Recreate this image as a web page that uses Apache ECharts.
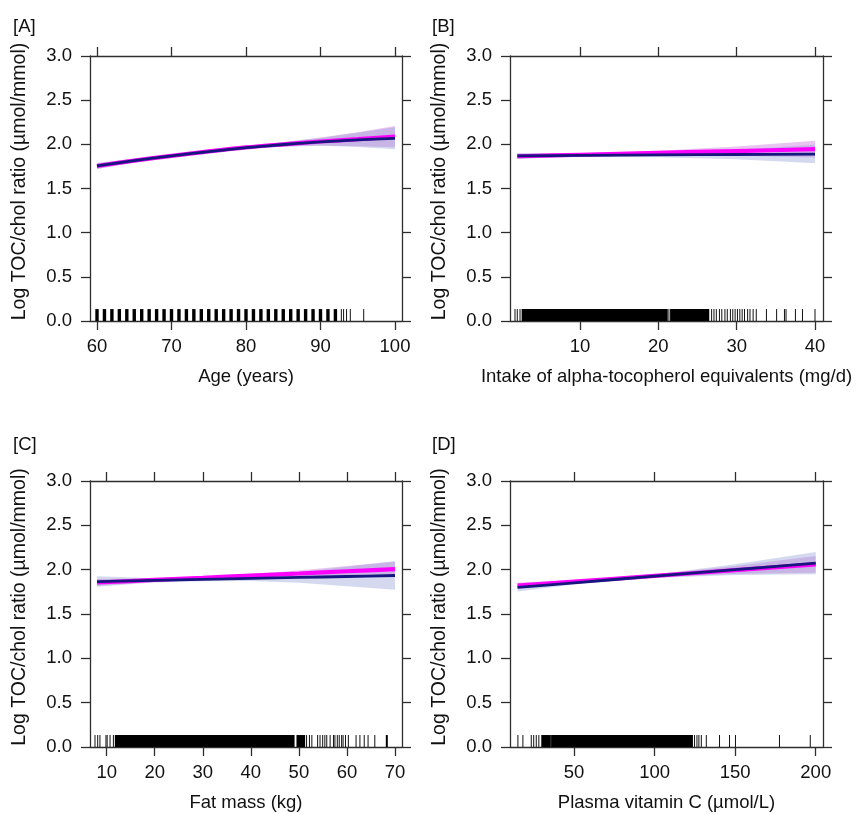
<!DOCTYPE html>
<html><head><meta charset="utf-8">
<script src="https://cdn.jsdelivr.net/npm/echarts@6/dist/echarts.min.js"></script>
<style>html,body{margin:0;padding:0;background:#fff}#c{width:857px;height:814px}</style>
</head><body><div id="c"></div>
<script>
// ---------- shared ----------
const yTickValues = [0, 0.5, 1, 1.5, 2, 2.5, 3];
const yName = 'Log TOC/chol ratio (µmol/mmol)';
const panelLabels = ['[A]', '[B]', '[C]', '[D]'];
const xNames = ['Age (years)', 'Intake of alpha-tocopherol equivalents (mg/d)', 'Fat mass (kg)', 'Plasma vitamin C (µmol/L)'];

// ---------- Panel A: Age ----------
const aTicks = [60, 70, 80, 90, 100];
const aX = [60, 65, 70, 75, 80, 85, 90, 95, 100];
const aMagFit = [1.755, 1.815, 1.870, 1.920, 1.965, 2.000, 2.032, 2.058, 2.087];
const aMagLo  = [1.720, 1.793, 1.855, 1.907, 1.950, 1.975, 1.987, 1.978, 1.967];
const aMagHi  = [1.790, 1.837, 1.885, 1.933, 1.980, 2.025, 2.077, 2.138, 2.207];
const aBluFit = [1.755, 1.815, 1.869, 1.918, 1.962, 1.998, 2.028, 2.050, 2.068];
const aBluLo  = [1.720, 1.793, 1.854, 1.905, 1.947, 1.973, 1.983, 1.970, 1.943];
const aBluHi  = [1.790, 1.837, 1.884, 1.931, 1.977, 2.023, 2.073, 2.130, 2.193];
const aRugThick = [60,61,62,63,64,65,66,67,68,69,70,71,72,73,74,75,76,77,78,79,80,81,82,83,84,85,86,87,88,89,90,91,92];
const aRugThin = [92.8, 93.1, 93.5, 94.0, 95.8];
const aRugBands = [];

// ---------- Panel B: alpha-tocopherol intake ----------
const bTicks = [10, 20, 30, 40];
const bX = [2, 10, 20, 30, 40];
const bMagFit = [1.865, 1.882, 1.903, 1.924, 1.945];
const bMagLo  = [1.835, 1.865, 1.878, 1.872, 1.850];
const bMagHi  = [1.895, 1.899, 1.928, 1.976, 2.040];
const bBluFit = [1.870, 1.875, 1.880, 1.885, 1.890];
const bBluLo  = [1.840, 1.858, 1.855, 1.830, 1.785];
const bBluHi  = [1.900, 1.892, 1.905, 1.940, 1.995];
const bRugThick = [];
const bRugThin = [1.70, 1.99, 2.34, 21.35, 26.8, 27.1, 27.4, 27.8, 28.1, 28.5, 28.8, 29.2, 29.5, 29.8, 30.1, 30.4, 30.7, 31.0, 31.4, 31.7, 32.1, 32.5, 33.8, 35.1, 36.1, 36.3, 37.5, 38.4, 40.0];
const bRugBands = [[2.55, 21.2], [21.5, 26.5]];

// ---------- Panel C: Fat mass ----------
const cTicks = [10, 20, 30, 40, 50, 60, 70];
const cX = [8, 20, 30, 40, 50, 60, 70];
const cMagFit = [1.855, 1.884, 1.908, 1.933, 1.957, 1.982, 2.006];
const cMagLo  = [1.815, 1.864, 1.893, 1.913, 1.922, 1.922, 1.921];
const cMagHi  = [1.895, 1.904, 1.923, 1.953, 1.992, 2.042, 2.091];
const cBluFit = [1.866, 1.879, 1.890, 1.901, 1.912, 1.923, 1.934];
const cBluLo  = [1.806, 1.854, 1.870, 1.871, 1.852, 1.813, 1.774];
const cBluHi  = [1.926, 1.904, 1.910, 1.931, 1.972, 2.033, 2.094];
const cRugThick = [68.3];
const cRugThin = [7.57, 8.13, 8.6, 9.85, 10.1, 10.7, 11.4, 51.6, 52.2, 52.7, 53.9, 54.4, 54.95, 55.4, 55.8, 56.5, 57.2, 57.5, 58.0, 58.4, 58.9, 59.2, 59.7, 60.3, 61.9, 62.7, 63.6, 64.4, 65.8];
const cRugBands = [[11.7, 49.1], [49.5, 51.3]];

// ---------- Panel D: Plasma vitamin C ----------
const dTicks = [50, 100, 150, 200];
const dX = [15, 50, 100, 150, 200];
const dMagFit = [1.820, 1.865, 1.930, 1.995, 2.060];
const dMagLo  = [1.785, 1.850, 1.915, 1.950, 1.965];
const dMagHi  = [1.855, 1.880, 1.945, 2.040, 2.155];
const dBluFit = [1.800, 1.852, 1.926, 2.000, 2.074];
const dBluLo  = [1.755, 1.832, 1.906, 1.940, 1.949];
const dBluHi  = [1.845, 1.872, 1.946, 2.060, 2.199];
const dRugThick = [];
const dRugThin = [15.2, 18.3, 23.5, 25.0, 26.6, 28.2, 35.5, 124.8, 126.3, 127.5, 129.0, 132.1, 140.3, 146.5, 150.2, 177.5, 196.6];
const dRugBands = [[29.7, 35.2], [35.8, 123.8]];

const rugHeight = 0.135;

// ---------- build ----------
const FONT = '"Liberation Sans", Arial, Helvetica, sans-serif';
const AXC = '#2e2e2e';
const TXT = '#111';
const MAG = '#ff00ff';
const BLU = '#16167e';
const MAG_BAND = 'rgba(205,125,225,0.45)';
const BLU_BAND = 'rgba(150,160,215,0.40)';

const panels = [
  {grid:{left:90, top:56, width:312, height:265}, min:59.06, max:100.94, ticks:aTicks, x:aX,
   mf:aMagFit, ml:aMagLo, mh:aMagHi, bf:aBluFit, bl:aBluLo, bh:aBluHi, rt:aRugThick, rn:aRugThin, rb:aRugBands, lab:[13,17]},
  {grid:{left:510, top:56, width:313, height:265}, min:1.06, max:41.02, ticks:bTicks, x:bX,
   mf:bMagFit, ml:bMagLo, mh:bMagHi, bf:bBluFit, bl:bBluLo, bh:bBluHi, rt:bRugThick, rn:bRugThin, rb:bRugBands, lab:[432,17]},
  {grid:{left:90, top:481, width:312, height:266}, min:6.53, max:71.46, ticks:cTicks, x:cX,
   mf:cMagFit, ml:cMagLo, mh:cMagHi, bf:cBluFit, bl:cBluLo, bh:cBluHi, rt:cRugThick, rn:cRugThin, rb:cRugBands, lab:[13,435]},
  {grid:{left:510, top:481, width:313, height:266}, min:10.3, max:204.5, ticks:dTicks, x:dX,
   mf:dMagFit, ml:dMagLo, mh:dMagHi, bf:dBluFit, bl:dBluLo, bh:dBluHi, rt:dRugThick, rn:dRugThin, rb:dRugBands, lab:[432,435]}
];

const grids = [], xAxis = [], yAxis = [], series = [], graphic = [];
const lineStyle = {color: AXC, width: 1.3};

panels.forEach((p, i) => {
  grids.push(Object.assign({containLabel:false}, p.grid));
  const xb = xAxis.length;
  xAxis.push({
    type:'value', gridIndex:i, min:p.min, max:p.max, position:'bottom',
    name:xNames[i], nameLocation:'middle', nameGap:46,
    nameTextStyle:{fontFamily:FONT, fontSize:18.5, color:TXT},
    axisLine:{show:true, onZero:false, lineStyle},
    axisTick:{show:true, length:9, customValues:p.ticks, lineStyle},
    axisLabel:{customValues:p.ticks, margin:16, fontFamily:FONT, fontSize:18.5, color:TXT},
    splitLine:{show:false}
  });
  xAxis.push({
    type:'value', gridIndex:i, min:p.min, max:p.max, position:'top',
    axisLine:{show:true, onZero:false, lineStyle},
    axisTick:{show:true, length:9, customValues:p.ticks, lineStyle},
    axisLabel:{show:false}, splitLine:{show:false}
  });
  const yb = yAxis.length;
  yAxis.push({
    type:'value', gridIndex:i, min:0, max:3, interval:0.5, position:'left',
    name:yName, nameLocation:'middle', nameGap:60,
    nameTextStyle:{fontFamily:FONT, fontSize:19.5, color:TXT, padding:[0,0,0,14]},
    axisLine:{show:true, onZero:false, lineStyle},
    axisTick:{show:true, length:9, customValues:yTickValues, lineStyle},
    axisLabel:{customValues:yTickValues, margin:18, fontFamily:FONT, fontSize:18.5, color:TXT,
      formatter:v => Number(v).toFixed(1)},
    splitLine:{show:false}
  });
  yAxis.push({
    type:'value', gridIndex:i, min:0, max:3, interval:0.5, position:'right',
    axisLine:{show:true, onZero:false, lineStyle},
    axisTick:{show:true, length:9, customValues:yTickValues, lineStyle},
    axisLabel:{show:false}, splitLine:{show:false}
  });

  function band(lo, hi, color, z) {
    const pts = p.x.map((x, k) => [x, lo[k], hi[k]]);
    return {
      type:'custom', xAxisIndex:xb, yAxisIndex:yb, z, silent:true, animation:false, clip:true,
      data: pts, encode:{x:0, y:[1,2]},
      renderItem:(params, api) => {
        if (params.dataIndex !== 0) return null;
        const upper = pts.map(q => api.coord([q[0], q[2]]));
        const lower = pts.map(q => api.coord([q[0], q[1]])).reverse();
        return {type:'polygon', shape:{points: upper.concat(lower)}, style:{fill:color}};
      }
    };
  }
  series.push(band(p.ml, p.mh, MAG_BAND, 2));
  series.push(band(p.bl, p.bh, BLU_BAND, 3));
  series.push({type:'line', xAxisIndex:xb, yAxisIndex:yb, z:4, data:p.x.map((x,k)=>[x,p.mf[k]]),
    showSymbol:false, symbol:'none', smooth:0.3, silent:true, animation:false,
    lineStyle:{color:MAG, width:4.2}});
  series.push({type:'line', xAxisIndex:xb, yAxisIndex:yb, z:5, data:p.x.map((x,k)=>[x,p.bf[k]]),
    showSymbol:false, symbol:'none', smooth:0.3, silent:true, animation:false,
    lineStyle:{color:BLU, width:2.8}});

  function rugLines(vals, w, color) {
    return {
      type:'custom', xAxisIndex:xb, yAxisIndex:yb, z:7, silent:true, animation:false,
      data: vals.map(v => [v, 0]), encode:{x:0, y:1},
      renderItem:(params, api) => {
        const a = api.coord([api.value(0), 0]);
        const b = api.coord([api.value(0), rugHeight]);
        return {type:'line', shape:{x1:a[0], y1:a[1], x2:b[0], y2:b[1]}, style:{stroke:color, lineWidth:w}};
      }
    };
  }
  if (p.rt.length) series.push(rugLines(p.rt, i === 0 ? 3.4 : 2, '#000'));
  if (p.rb.length) series.push({
    type:'custom', xAxisIndex:xb, yAxisIndex:yb, z:6, silent:true, animation:false,
    data: p.rb.map(r => [r[0], r[1], 0]), encode:{x:[0,1], y:2},
    renderItem:(params, api) => {
      const a = api.coord([api.value(0), rugHeight]);
      const b = api.coord([api.value(1), 0]);
      return {type:'rect', shape:{x:a[0], y:a[1], width:b[0]-a[0], height:b[1]-a[1]}, style:{fill:'#000'}};
    }
  });
  if (p.rn.length) series.push(rugLines(p.rn, 1, '#111'));

  graphic.push({type:'text', left:p.lab[0], top:p.lab[1],
    style:{text:panelLabels[i], font:'18.5px ' + FONT, fill:TXT}});
});

const chart = echarts.init(document.getElementById('c'), null, {renderer:'canvas'});
chart.setOption({
  backgroundColor:'#fff', animation:false,
  grid:grids, xAxis, yAxis, series, graphic
});
</script></body></html>
